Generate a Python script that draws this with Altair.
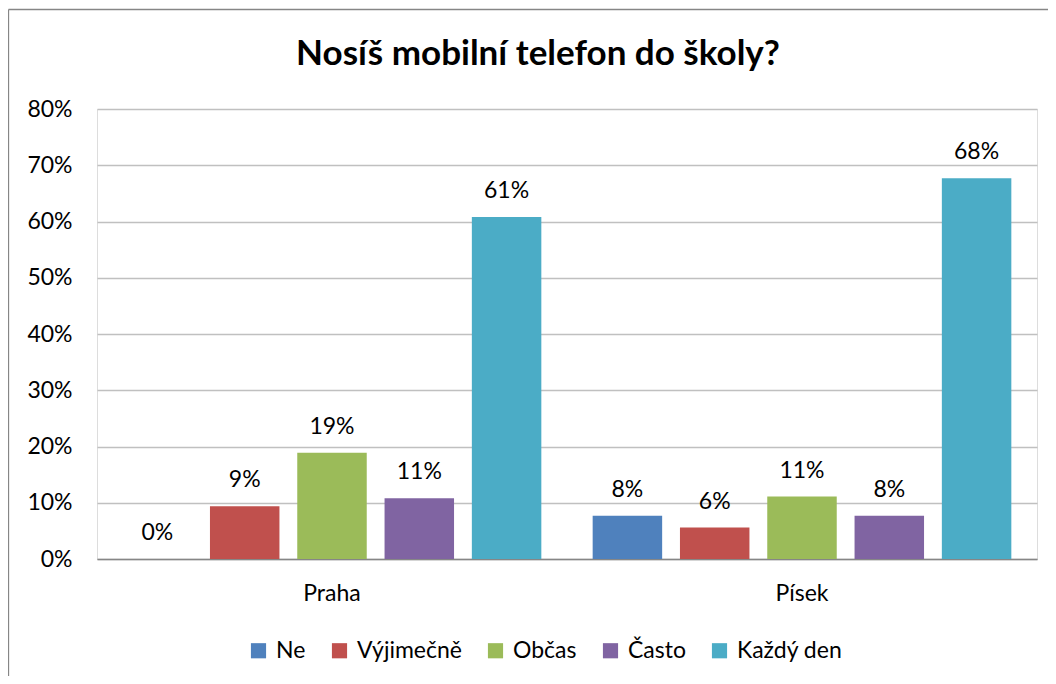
import altair as alt
import pandas as pd

groups = ["Praha", "Písek"]
categories = ["Ne", "Výjimečně", "Občas", "Často", "Každý den"]
praha_values = [0.0, 0.094, 0.189, 0.108, 0.608]
pisek_values = [0.077, 0.056, 0.111, 0.077, 0.677]
colors = ["#4F81BD", "#C0504D", "#9BBB59", "#8064A2", "#4BACC6"]
y_ticks = [0, 0.1, 0.2, 0.3, 0.4, 0.5, 0.6, 0.7, 0.8]
title_text = "Nosíš mobilní telefon do školy?"

rows = []
for g, vals in zip(groups, [praha_values, pisek_values]):
    for c, v in zip(categories, vals):
        rows.append({"group": g, "category": c, "value": v})
df = pd.DataFrame(rows)

FONT = "Lato"

base = alt.Chart(df).encode(
    x=alt.X(
        "group:N",
        sort=groups,
        scale=alt.Scale(paddingInner=0, paddingOuter=0),
        axis=alt.Axis(
            title=None, labelAngle=0, ticks=False, domain=True,
            domainColor="#868686", domainWidth=1.3, grid=False,
            labelFont=FONT, labelFontSize=23, labelColor="#000000",
            labelPadding=23,
        ),
    ),
    xOffset=alt.XOffset(
        "category:N", sort=categories,
        scale=alt.Scale(paddingInner=0.204, paddingOuter=0.294),
    ),
    y=alt.Y(
        "value:Q",
        scale=alt.Scale(domain=[0, 0.8], nice=False),
        axis=alt.Axis(
            title=None, format=".0%", values=y_ticks, ticks=False, domain=False,
            grid=True, gridColor="#C0C0C0", gridWidth=1.3,
            labelFont=FONT, labelFontSize=23, labelColor="#000000",
            labelPadding=25,
        ),
    ),
)

bars = base.mark_bar().encode(
    color=alt.Color(
        "category:N",
        sort=categories,
        scale=alt.Scale(domain=categories, range=colors),
        legend=alt.Legend(
            title=None, orient="none", legendX=150, legendY=530,
            direction="horizontal", symbolType="square", symbolSize=230,
            symbolStrokeWidth=0, labelFont=FONT, labelFontSize=23,
            labelColor="#000000", columnPadding=22, labelOffset=6, padding=0,
        ),
    )
)

labels = base.mark_text(
    font=FONT, fontSize=23, color="#000000", baseline="alphabetic", dy=-19
).encode(text=alt.Text("value:Q", format=".0%"))

title_df = pd.DataFrame({"t": [title_text]})
title = alt.Chart(title_df).mark_text(
    font=FONT, fontSize=35, fontWeight="bold", color="#000000",
    baseline="alphabetic", align="center",
).encode(x=alt.value(441), y=alt.value(-44), text="t:N")

frame_df = pd.DataFrame({"f": [1]})
left_line = alt.Chart(frame_df).mark_rule(color="#868686", strokeWidth=1.3).encode(
    x=alt.value(-88.5), y=alt.value(-99.5), y2=alt.value(580)
)
top_line = alt.Chart(frame_df).mark_rule(color="#868686", strokeWidth=1.3).encode(
    x=alt.value(-88.5), x2=alt.value(970), y=alt.value(-99.5)
)

chart = alt.layer(bars, labels, title, left_line, top_line).properties(
    width=940, height=450,
    autosize=alt.AutoSizeParams(type="none"),
    padding={"left": 89, "top": 101, "right": 11, "bottom": 117},
).configure_view(strokeWidth=0).configure(background="#FFFFFF")

chart.save("out.html", embed_options={"renderer": "svg", "actions": False})
